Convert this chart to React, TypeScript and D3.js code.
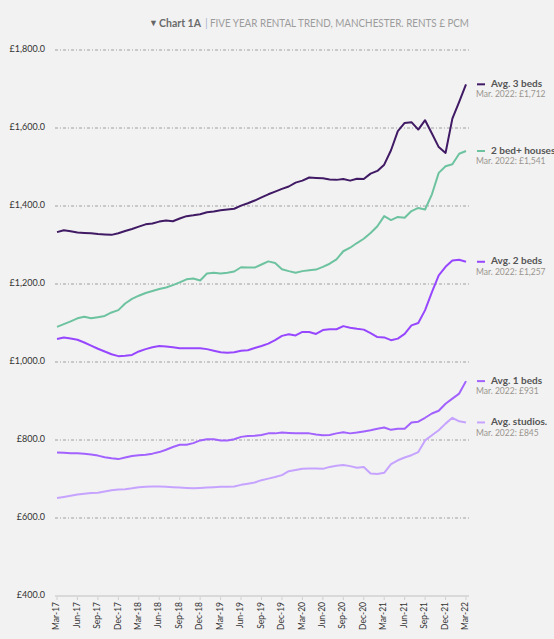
import React from 'react'
import * as d3 from 'd3'

// monthly rents, Mar-17 .. Mar-22 (61 months)
const threeBeds = [
  1333, 1338, 1335, 1332, 1331, 1330, 1328, 1327, 1326, 1330, 1336, 1341, 1347, 1353, 1355, 1360,
  1363, 1361, 1368, 1374, 1376, 1379, 1384, 1386, 1389, 1391, 1393, 1401, 1407, 1414, 1422, 1430,
  1437, 1444, 1450, 1460, 1465, 1473, 1472, 1471, 1468, 1467, 1469, 1465, 1470, 1469, 1483, 1490,
  1506, 1543, 1592, 1613, 1615, 1596, 1620, 1586, 1551, 1536, 1624, 1667, 1712,
]
const houses = [
  1090, 1097, 1104, 1112, 1116, 1112, 1115, 1118, 1127, 1133, 1150, 1162, 1170, 1177, 1182, 1187,
  1191, 1197, 1204, 1212, 1214, 1209, 1227, 1229, 1227, 1229, 1232, 1243, 1242, 1242, 1250, 1258,
  1254, 1238, 1233, 1229, 1233, 1235, 1237, 1244, 1252, 1263, 1284, 1293, 1305, 1316, 1331, 1348,
  1374, 1364, 1372, 1370, 1387, 1395, 1391, 1430, 1485, 1502, 1507, 1534, 1541,
]
const twoBeds = [
  1059, 1063, 1060, 1057, 1050, 1042, 1034, 1027, 1020, 1015, 1016, 1018, 1027, 1033, 1038, 1041,
  1040, 1038, 1035, 1035, 1035, 1035, 1033, 1029, 1025, 1024, 1025, 1029, 1030, 1036, 1041, 1047,
  1056, 1067, 1071, 1068, 1077, 1077, 1072, 1082, 1084, 1084, 1092, 1088, 1085, 1083, 1074, 1064,
  1063, 1056, 1060, 1072, 1094, 1100, 1133, 1179, 1222, 1244, 1260, 1262, 1257,
]
const oneBeds = [
  768, 767, 766, 766, 765, 763, 760, 756, 753, 751, 755, 759, 761, 762, 765, 769,
  775, 782, 788, 788, 792, 799, 802, 802, 799, 799, 802, 808, 810, 811, 813, 817,
  817, 819, 818, 817, 817, 817, 814, 812, 813, 817, 820, 817, 819, 822, 825, 829,
  832, 826, 829, 829, 845, 847, 857, 868, 875, 893, 906, 919, 951,
]
const studios = [
  651, 654, 657, 660, 662, 664, 665, 668, 671, 673, 674, 676, 679, 680, 681, 681,
  680, 679, 678, 677, 676, 677, 678, 679, 680, 680, 681, 685, 688, 691, 697, 701,
  705, 710, 720, 723, 726, 727, 727, 726, 731, 734, 736, 733, 729, 731, 714, 713,
  716, 738, 748, 755, 761, 769, 799, 812, 825, 842, 857, 848, 845,
]

const tickLabels = [
  'Mar-17', 'Jun-17', 'Sep-17', 'Dec-17', 'Mar-18', 'Jun-18', 'Sep-18', 'Dec-18', 'Mar-19',
  'Jun-19', 'Sep-19', 'Dec-19', 'Mar-20', 'Jun-20', 'Sep-20', 'Dec-20', 'Mar-21', 'Jun-21',
  'Sep-21', 'Dec-21', 'Mar-22',
]
const yTicks = [400, 600, 800, 1000, 1200, 1400, 1600, 1800]

const seriesNames = ['Avg. 3 beds', '2 bed+ houses', 'Avg. 2 beds', 'Avg. 1 beds', 'Avg. studios.']
const seriesNotes = ['Mar. 2022: £1,712', 'Mar. 2022: £1,541', 'Mar. 2022: £1,257', 'Mar. 2022: £931', 'Mar. 2022: £845']
const seriesValues = [threeBeds, houses, twoBeds, oneBeds, studios]
const seriesColors = ['#401a64', '#6dc3a0', '#9747ff', '#a262ff', '#c6a3ff']

const W = 554
const H = 639
const font = 'Lato, "Noto Sans", sans-serif'

const App: React.FC = () => {
  const x = d3.scaleLinear().domain([0, 60]).range([57, 466])
  const y = d3.scaleLinear().domain([400, 1800]).range([596, 50])
  const line = d3
    .line<number>()
    .x((_, i) => x(i))
    .y((d) => y(d))

  const gridLeft = x(0) - 2
  const gridRight = x(60) + 3

  return (
    <svg
      width={W}
      height={H}
      style={{ position: 'absolute', left: 0, top: 0, background: '#f2f2f2' }}
      fontFamily={font}
    >
      {/* title */}
      <g dominantBaseline="middle">
        <text x={149} y={24} fontSize={9} fill="#666">▼</text>
        <text x={159} y={24} fontSize={11} fontWeight="bold" fill="#6b6b6b" textLength={42} lengthAdjust="spacingAndGlyphs">
          Chart 1A
        </text>
        <text x={205} y={24} fontSize={11} fill="#a8b4cc">|</text>
        <text x={210} y={24} fontSize={10.5} fill="#9c9c9c" textLength={259} lengthAdjust="spacingAndGlyphs">
          FIVE YEAR RENTAL TREND, MANCHESTER. RENTS £ PCM
        </text>
      </g>

      {/* grid + y labels */}
      {yTicks.map((t) => (
        <g key={t}>
          {t > 400 ? (
            <line
              x1={gridLeft}
              x2={gridRight}
              y1={y(t)}
              y2={y(t)}
              stroke="#8a8a8a"
              strokeWidth={0.8}
              strokeDasharray="3 2 1 2"
            />
          ) : (
            <line x1={gridLeft} x2={gridRight} y1={y(t)} y2={y(t)} stroke="#d0d0d0" strokeWidth={1.5} />
          )}
          <text x={45} y={y(t)} textAnchor="end" dominantBaseline="middle" fontSize={9} fill="#333">
            {'£' + d3.format(',.1f')(t)}
          </text>
        </g>
      ))}

      {/* x ticks */}
      {tickLabels.map((lab, k) => (
        <g key={lab} transform={`translate(${x(k * 3)},${y(400)})`}>
          <line y1={1} y2={4} stroke="#cfcfcf" strokeWidth={1} />
          <text
            transform="rotate(-90)"
            x={-6}
            y={0}
            textAnchor="end"
            dominantBaseline="middle"
            fontSize={8.5}
            fill="#333"
          >
            {lab}
          </text>
        </g>
      ))}

      {/* series */}
      {seriesValues.map((vals, s) => (
        <path
          key={seriesNames[s]}
          d={line(vals) || ''}
          fill="none"
          stroke={seriesColors[s]}
          strokeWidth={2}
          strokeLinejoin="round"
        />
      ))}

      {/* end labels */}
      {seriesValues.map((vals, s) => {
        const ly = y(vals[vals.length - 1])
        return (
          <g key={'lab' + s}>
            <line x1={477} x2={485} y1={ly} y2={ly} stroke={seriesColors[s]} strokeWidth={2} />
            <text x={491} y={ly} dominantBaseline="middle" fontSize={10} fontWeight="bold" fill="#555">
              {seriesNames[s]}
            </text>
            <text x={476} y={ly + 11} dominantBaseline="middle" fontSize={8.5} fill="#9a958f">
              {seriesNotes[s]}
            </text>
          </g>
        )
      })}
    </svg>
  )
}

export default App
